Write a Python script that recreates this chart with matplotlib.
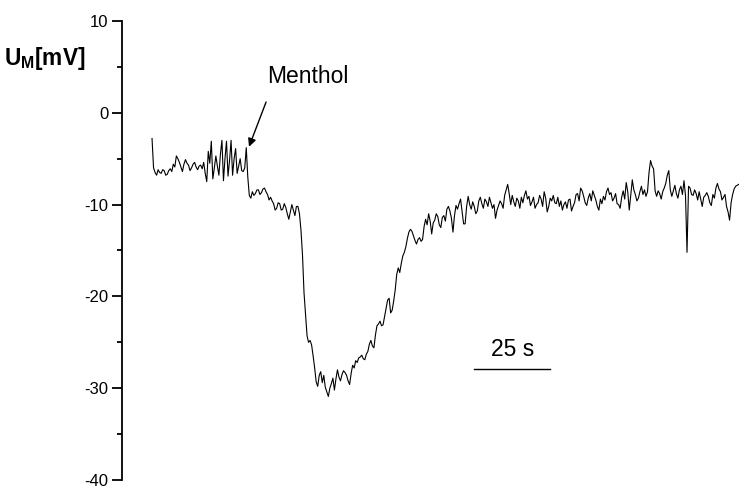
import numpy as np
import matplotlib
matplotlib.use("Agg")
import matplotlib.pyplot as plt
from matplotlib.ticker import MultipleLocator

plt.rcParams['font.family'] = ['Liberation Sans', 'DejaVu Sans']
plt.rcParams['mathtext.fontset'] = 'custom'
plt.rcParams['mathtext.rm'] = 'Liberation Sans'
plt.rcParams['mathtext.bf'] = 'Liberation Sans:bold'

# membrane potential trace (mV), sampled every half second
dt_s = 0.5
membrane_mv = [
    -2.8, -6.0, -6.5, -6.8, -6.2, -6.5, -6.6, -6.2, -6.3, -6.8,
    -6.7, -6.3, -6.1, -6.4, -5.6, -5.9, -4.7, -5.0, -5.4, -5.9,
    -6.4, -5.6, -5.1, -5.5, -5.7, -6.3, -6.0, -5.6, -5.4, -5.9,
    -6.2, -5.8, -5.7, -6.1, -5.4, -6.6, -7.5, -4.2, -5.5, -3.1,
    -7.2, -6.0, -4.7, -5.8, -6.8, -4.5, -3.0, -7.4, -5.0, -3.1,
    -6.9, -5.2, -3.0, -6.8, -5.0, -3.9, -6.6, -5.8, -5.0, -6.3,
    -6.4, -6.0, -3.8, -7.0, -9.0, -9.3, -8.6, -9.0, -8.8, -8.4,
    -8.4, -8.9, -8.7, -8.3, -8.2, -8.6, -8.9, -9.5, -9.2, -9.6,
    -9.9, -10.6, -10.4, -9.8, -9.9, -10.6, -10.5, -9.9, -10.3, -11.0,
    -11.6, -10.8, -10.0, -10.6, -11.2, -10.2, -10.2, -11.0, -12.8, -15.5,
    -19.6, -22.0, -24.3, -25.0, -24.8, -25.3, -26.5, -27.8, -29.3, -29.8,
    -28.6, -28.2, -29.4, -28.6, -29.9, -30.4, -30.9, -30.0, -29.5, -28.9,
    -30.2, -29.0, -28.0, -28.8, -29.2, -28.5, -28.1, -28.3, -28.6, -29.2,
    -29.6, -28.4, -27.5, -27.8, -27.0, -27.2, -26.7, -26.6, -26.4, -26.8,
    -26.9, -26.3, -26.0, -25.2, -24.8, -25.4, -25.6, -24.2, -23.2, -23.0,
    -22.7, -23.2, -23.1, -22.2, -21.3, -20.4, -20.2, -21.8, -21.5, -20.5,
    -19.3, -17.6, -16.9, -17.4, -16.4, -15.6, -15.2, -14.6, -13.7, -13.0,
    -12.7, -12.9, -13.4, -13.9, -14.3, -13.8, -13.6, -14.0, -13.8, -12.4,
    -11.6, -12.2, -11.0, -11.8, -13.2, -12.0, -11.7, -11.0, -11.3, -12.2,
    -12.5, -11.4, -11.2, -11.8, -10.5, -10.2, -10.7, -11.5, -13.0, -11.2,
    -10.1, -10.5, -9.9, -9.4, -10.8, -12.1, -12.1, -10.2, -9.1, -10.0,
    -10.5, -9.7, -10.2, -11.0, -10.7, -9.6, -9.2, -9.9, -10.4, -9.4,
    -9.7, -10.2, -9.2, -9.8, -10.4, -10.0, -11.5, -10.6, -10.1, -9.6,
    -9.9, -10.4, -9.0, -8.4, -7.8, -8.8, -10.0, -9.0, -9.7, -10.2,
    -9.3, -9.6, -10.4, -9.2, -9.8, -9.0, -8.5, -9.4, -9.1, -10.1,
    -9.7, -9.2, -10.4, -10.0, -9.8, -9.0, -9.4, -10.2, -8.6, -9.3,
    -10.8, -10.2, -9.3, -9.6, -9.0, -9.8, -9.9, -9.2, -10.2, -9.6,
    -10.6, -10.0, -9.7, -10.4, -9.5, -9.4, -10.7, -10.2, -9.8, -8.9,
    -8.8, -9.6, -8.2, -8.5, -9.1, -9.8, -10.1, -9.3, -8.8, -9.6,
    -8.5, -9.0, -9.5, -10.2, -10.6, -9.4, -9.9, -9.1, -9.5, -8.6,
    -8.2, -8.9, -8.7, -9.6, -9.3, -8.8, -9.9, -10.0, -10.4, -9.2,
    -8.5, -9.4, -7.6, -8.6, -10.6, -9.0, -7.3, -8.4, -8.9, -9.6,
    -9.3, -8.6, -8.0, -8.9, -8.4, -9.1, -8.6, -6.5, -5.2, -5.8,
    -6.1, -8.5, -9.1, -8.5, -8.8, -9.4, -8.6, -8.2, -7.7, -6.8,
    -6.3, -8.4, -9.1, -8.5, -7.9, -8.8, -9.3, -8.4, -8.0, -8.9,
    -7.4, -9.0, -15.2, -8.0, -8.2, -8.9, -9.0, -8.4, -8.8, -9.5,
    -8.6, -9.4, -10.2, -9.2, -9.0, -8.7, -9.1, -9.8, -10.1, -8.9,
    -9.3, -8.2, -7.7, -8.3, -8.6, -9.5, -9.2, -8.9, -10.2, -10.8,
    -11.7, -9.8, -8.9, -8.3, -8.0, -7.9, -7.8,
]
time_s = np.arange(len(membrane_mv)) * dt_s

y_ticks = [10, 0, -10, -20, -30, -40]
y_tick_labels = ['10', '0', '-10', '-20', '-30', '-40']

stim_label = "Menthol"
stim_time = 31.9
stim_value = -3.7
scale_len_s = 25
scale_label = "25 s"

fig = plt.figure(figsize=(7.39, 4.88), dpi=100)
ax = fig.add_axes([0.165, 0.0164, 0.835, 0.9406])

ax.plot(time_s, membrane_mv, color='black', lw=0.8)

ax.set_xlim(-9.9, 193.1)
ax.set_ylim(-40, 10)
ax.set_yticks(y_ticks)
ax.set_yticklabels(y_tick_labels)
ax.yaxis.set_minor_locator(MultipleLocator(5))
ax.tick_params(axis='y', which='major', direction='out', length=7.5, width=1.3,
               labelsize=12, pad=2)
ax.tick_params(axis='y', which='minor', direction='out', length=3.8, width=1.3)
ax.set_xticks([])
for s in ['top', 'right', 'bottom']:
    ax.spines[s].set_visible(False)
ax.spines['left'].set_linewidth(1.3)

fig.text(0.006, 0.88, r'$\mathbf{U_M[mV]}$', fontsize=16.3, ha='left', va='center')

ax.annotate(stim_label, xy=(stim_time, stim_value), xytext=(38.0, 4.0),
            fontsize=16.5, ha='left', va='center',
            arrowprops=dict(arrowstyle='-|>', color='black', lw=1.0,
                            mutation_scale=12, shrinkA=9, shrinkB=0,
                            relpos=(0.05, 0.0)))

bar_x0 = 106.0
ax.plot([bar_x0, bar_x0 + scale_len_s], [-27.9, -27.9], color='black', lw=1.0)
ax.text(bar_x0 + scale_len_s / 2, -25.8, scale_label, fontsize=16.5,
        ha='center', va='center')

fig.savefig('out.png', dpi=100)
